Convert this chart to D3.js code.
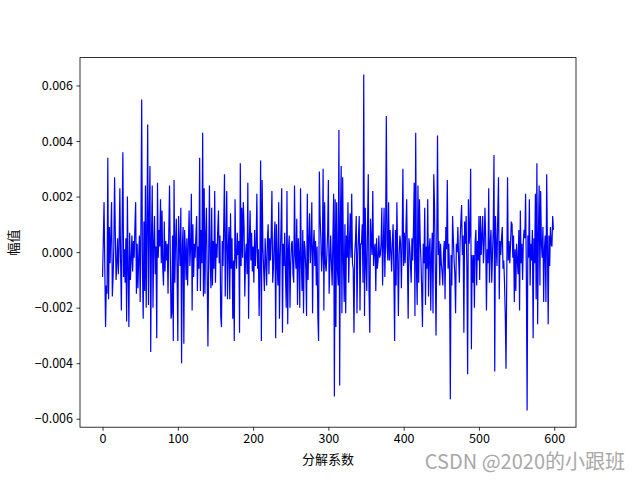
<!DOCTYPE html>
<html>
<head>
<meta charset="utf-8">
<script src="https://cdn.jsdelivr.net/npm/d3@7"></script>
<style>
  body { margin: 0; background: #fff; }
  text { font-family: "Noto Sans CJK SC", "DejaVu Sans", sans-serif; }
</style>
</head>
<body>
<div id="chart"></div>
<script>
// wavelet coefficients, index 0..599
var coeffs = [
  -0.0009, 0.0004, 0.0018, -0.0006, -0.0027, -0.0012, -0.0015, 0.0034, -0.0017, 0.0009,
  -0.0004, 0.0006, 0.0018, -0.0016, -0.0009, 0.0002, 0.0027, 0.0006, -0.0010, -0.0004,
  0.0005, -0.0008, 0.0002, 0.0023, -0.0003, -0.0021, 0.0008, 0.0036, -0.0009, 0.0001,
  -0.0011, 0.0005, -0.0025, 0.0020, -0.0006, -0.0027, 0.0007, -0.0010, -0.0003, 0.0006,
  -0.0007, 0.0004, -0.0002, 0.0009, 0.0018, -0.0015, 0.0003, -0.0013, -0.0002, 0.0006,
  -0.0018, 0.0010, 0.0055, -0.0006, -0.0024, 0.0011, -0.0014, 0.0024, -0.0020, 0.0008,
  0.0046, -0.0019, 0.0012, 0.0031, -0.0036, 0.0005, 0.0024, -0.0020, 0.0003, 0.0013,
  -0.0008, 0.0002, -0.0031, 0.0025, -0.0002, 0.0008, 0.0002, 0.0019, -0.0004, 0.0015,
  -0.0006, -0.0012, 0.0011, -0.0007, 0.0004, -0.0003, 0.0003, -0.0015, 0.0007, 0.0024,
  -0.0001, -0.0024, -0.0022, 0.0006, -0.0032, 0.0026,
  -0.0011, 0.0004, 0.0012, -0.0006, -0.0032, 0.0013, 0.0003, -0.0005, 0.0016, -0.0040,
  0.0002, 0.0009, -0.0033, 0.0008, 0.0001, -0.0010, 0.0005, -0.0012, 0.0003, 0.0015,
  -0.0005, 0.0002, 0.0021, -0.0021, 0.0010, -0.0009, 0.0003, -0.0002, 0.0006, 0.0013,
  -0.0014, 0.0002, -0.0006, 0.0034, -0.0014, 0.0008, -0.0004, 0.0043, -0.0016, 0.0023,
  -0.0015, 0.0006, 0.0016, -0.0008, -0.0034, -0.0002, 0.0024, -0.0003, -0.0013, 0.0016,
  -0.0012, 0.0004, -0.0006, 0.0022, -0.0011, 0.0003, -0.0002, 0.0008, 0.0015, -0.0004,
  0.0006, -0.0023, -0.0027, 0.0004, -0.0005, 0.0010, 0.0028, -0.0016, 0.0004, 0.0022,
  -0.0017, 0.0001, 0.0009, -0.0017, 0.0014, -0.0006, 0.0005, -0.0024, -0.0003, -0.0032,
  0.0019, -0.0001, -0.0006, 0.0007, -0.0001, 0.0004, -0.0029, 0.0032, -0.0005, 0.0016,
  -0.0002, 0.0018, 0.0009,
  -0.0016, -0.0001, 0.0003, -0.0008, 0.0025, -0.0024, 0.0004, 0.0015, -0.0003, 0.0007,
  -0.0007, 0.0002, -0.0011, 0.0008, -0.0005, 0.0002, 0.0021, -0.0006, 0.0001, -0.0023,
  -0.0005, 0.0033, -0.0032, 0.0026, 0.0002, -0.0006, -0.0014, 0.0005, -0.0003, -0.0012,
  0.0004, 0.0010, -0.0008, 0.0005, -0.0003, 0.0006, 0.0022, -0.0011, -0.0006, 0.0004,
  0.0011, -0.0031, 0.0010, -0.0004, -0.0012, 0.0018, -0.0024, -0.0002, 0.0008, 0.0023,
  -0.0029, 0.0003, -0.0005, 0.0007, -0.0008, -0.0020, 0.0022, -0.0026, 0.0001, 0.0006,
  -0.0020, -0.0004, 0.0003, 0.0004, -0.0008, -0.0011, 0.0024, -0.0001, -0.0006, 0.0012,
  -0.0019, 0.0005, -0.0001, -0.0020, 0.0023, -0.0003, -0.0014, 0.0008, -0.0022, 0.0004,
  0.0001, -0.0006, -0.0023, 0.0021, -0.0010, 0.0004, 0.0014, -0.0004, 0.0003, 0.0018,
  -0.0022, 0.0002, 0.0008, -0.0005, 0.0004, -0.0012, 0.0002, -0.0023, -0.0032, 0.0029,
  0.0013, 0.0005, -0.0007, -0.0001, 0.0030, -0.0021, 0.0018, -0.0004, -0.0007, -0.0001,
  0.0007, 0.0026, -0.0015, -0.0004, 0.0006, -0.0004, -0.0012, 0.0005, 0.0021, -0.0052,
  0.0019, -0.0027, 0.0018, -0.0006, -0.0012, 0.0044, -0.0048, 0.0012, 0.0031, -0.0022,
  0.0027, -0.0003, -0.0018, 0.0010, -0.0022, 0.0006, -0.0002, 0.0018, -0.0011, 0.0003,
  0.0014, -0.0002, 0.0021, -0.0004, -0.0006, -0.0029, -0.0001, 0.0004, 0.0013, -0.0022,
  -0.0001, 0.0006, 0.0013, -0.0021, 0.0003, 0.0003, 0.0010, -0.0011, 0.0064, -0.0023,
  0.0016, -0.0005, -0.0014, 0.0009, 0.0028, -0.0014, -0.0029, 0.0012, 0.0004, -0.0001,
  0.0022, -0.0005, 0.0001, 0.0003, -0.0014, 0.0005, -0.0006, -0.0003, 0.0006, -0.0002,
  -0.0001, 0.0003, 0.0016, -0.0012, 0.0002, 0.0016, -0.0009, 0.0005, 0.0049, 0.0002,
  -0.0003, 0.0018, -0.0003, 0.0008, 0.0000, -0.0007, 0.0004, 0.0010, -0.0008, -0.0032,
  0.0008, -0.0012, 0.0018, -0.0001, -0.0023, -0.0001, 0.0006, 0.0003, -0.0013, 0.0003,
  0.0030, -0.0005, 0.0007, -0.0004, 0.0008, 0.0019, -0.0003, -0.0024, 0.0005, 0.0002,
  -0.0004, -0.0011, 0.0005, -0.0003, 0.0008, 0.0025, -0.0023, 0.0043, -0.0006, -0.0019,
  0.0024, -0.0011, 0.0019, 0.0004, -0.0003, -0.0014, -0.0027, 0.0003, -0.0004, 0.0016,
  -0.0019, 0.0002, -0.0006, 0.0019, -0.0016, 0.0001, 0.0005, -0.0021, -0.0001, 0.0007,
  -0.0022, 0.0028, 0.0017, -0.0005, -0.0030, 0.0002, 0.0042, -0.0001, 0.0004, -0.0012,
  0.0003, -0.0004, -0.0007, -0.0012, 0.0000, 0.0004, -0.0017, 0.0009, 0.0001, 0.0026,
  -0.0006, 0.0003, -0.0008, -0.0053, -0.0001, -0.0012, 0.0013, 0.0005, -0.0003, -0.0008,
  -0.0022, 0.0003, 0.0000, 0.0009, -0.0002, -0.0011, 0.0004, 0.0011, 0.0017, -0.0001,
  0.0006, -0.0029, 0.0011, 0.0003, 0.0013, -0.0006, -0.0044, 0.0019, 0.0003, 0.0007,
  0.0030, -0.0035, -0.0001, -0.0011, -0.0001, -0.0020, 0.0004, 0.0008, -0.0012, 0.0004,
  -0.0003, 0.0013, -0.0010, 0.0013, -0.0001, 0.0006, 0.0013, -0.0004, 0.0003, 0.0016,
  0.0005, -0.0021, 0.0001, -0.0004, 0.0023, -0.0011, 0.0003, 0.0008, -0.0011, -0.0001,
  0.0008, 0.0035, -0.0043, 0.0013, 0.0002, -0.0005, 0.0013, 0.0027, -0.0017, 0.0004,
  -0.0001, 0.0005, 0.0009, -0.0006, -0.0003, -0.0011, -0.0023, -0.0042, -0.0008, 0.0027,
  -0.0003, 0.0004, -0.0004, 0.0003, 0.0011, 0.0010, -0.0002, 0.0006, -0.0018, 0.0001,
  -0.0014, 0.0003, -0.0003, -0.0008, 0.0008, -0.0021, 0.0015, -0.0004, 0.0003, -0.0010,
  0.0004, 0.0008, 0.0005, 0.0021, -0.0008, -0.0057, 0.0006, -0.0002, 0.0019, -0.0012,
  0.0003, -0.0003, 0.0008, -0.0031, 0.0005, -0.0004, 0.0021, -0.0017, 0.0032, -0.0026,
  0.0006, 0.0024, -0.0012, 0.0022, 0.0003, -0.0002, 0.0009, -0.0018, 0.0001, 0.0006,
  -0.0018, 0.0028, 0.0002, -0.0026, 0.0006, -0.0005, 0.0009, 0.0003, 0.0002, 0.0013,
  0.0008
];
var xTicks = [0, 100, 200, 300, 400, 500, 600];
var yTicks = [-0.006, -0.004, -0.002, 0.000, 0.002, 0.004, 0.006];
var xLabel = "分解系数";
var yLabel = "幅值";
var watermark = "CSDN @2020的小跟班";

var svgWidth = 640, svgHeight = 480;
var margin = { top: 57.6, right: 64, bottom: 52.8, left: 80 };
var chartWidth = svgWidth - margin.left - margin.right;
var chartHeight = svgHeight - margin.top - margin.bottom;

var svg = d3.select("#chart").append("svg")
  .attr("width", svgWidth)
  .attr("height", svgHeight);

var chartGroup = svg.append("g")
  .attr("transform", `translate(${margin.left}, ${margin.top})`);

// matplotlib style 5% padding around the data
var n = coeffs.length;
var xPad = (n - 1) * 0.05;
var yMin = d3.min(coeffs), yMax = d3.max(coeffs);
var yPad = (yMax - yMin) * 0.05;

var xScale = d3.scaleLinear()
  .domain([-xPad, n - 1 + xPad])
  .range([0, chartWidth]);

var yScale = d3.scaleLinear()
  .domain([yMin - yPad, yMax + yPad])
  .range([chartHeight, 0]);

var fmt = d => d3.format(".3f")(d).replace("-", "\u2212");

var bottomAxis = d3.axisBottom(xScale).tickValues(xTicks).tickSize(3.5).tickPadding(3.5);
var leftAxis = d3.axisLeft(yScale).tickValues(yTicks).tickSize(3.5).tickPadding(3.5).tickFormat(fmt);

// the line
var line = d3.line()
  .x((d, i) => xScale(i))
  .y(d => yScale(d));

chartGroup.append("path")
  .datum(coeffs)
  .attr("fill", "none")
  .attr("stroke", "#0000ff")
  .attr("stroke-width", 1.2)
  .attr("d", line);

// axes
var xAxisG = chartGroup.append("g")
  .attr("transform", `translate(0, ${chartHeight})`)
  .call(bottomAxis);
var yAxisG = chartGroup.append("g")
  .call(leftAxis);

[xAxisG, yAxisG].forEach(g => {
  g.select(".domain").remove();
  g.selectAll("line").attr("stroke", "#000").attr("stroke-width", 0.8);
  g.selectAll("text")
    .attr("fill", "#000")
    .style("font-size", "12.5px")
    .style("font-family", "'Noto Sans CJK SC', sans-serif");
});

// frame
chartGroup.append("rect")
  .attr("width", chartWidth)
  .attr("height", chartHeight)
  .attr("fill", "none")
  .attr("stroke", "#000")
  .attr("stroke-width", 0.8);

// axis labels
chartGroup.append("text")
  .attr("transform", `translate(${chartWidth / 2}, ${chartHeight + 37})`)
  .attr("text-anchor", "middle")
  .style("font-size", "13px")
  .text(xLabel);

chartGroup.append("text")
  .attr("transform", `translate(${-62}, ${chartHeight / 2}) rotate(-90)`)
  .attr("text-anchor", "middle")
  .style("font-size", "13px")
  .text(yLabel);

// watermark
svg.append("text")
  .attr("x", 625)
  .attr("y", 469)
  .attr("text-anchor", "end")
  .attr("fill", "#a8a8a8")
  .style("font-size", "20px")
  .text(watermark);
</script>
</body>
</html>
